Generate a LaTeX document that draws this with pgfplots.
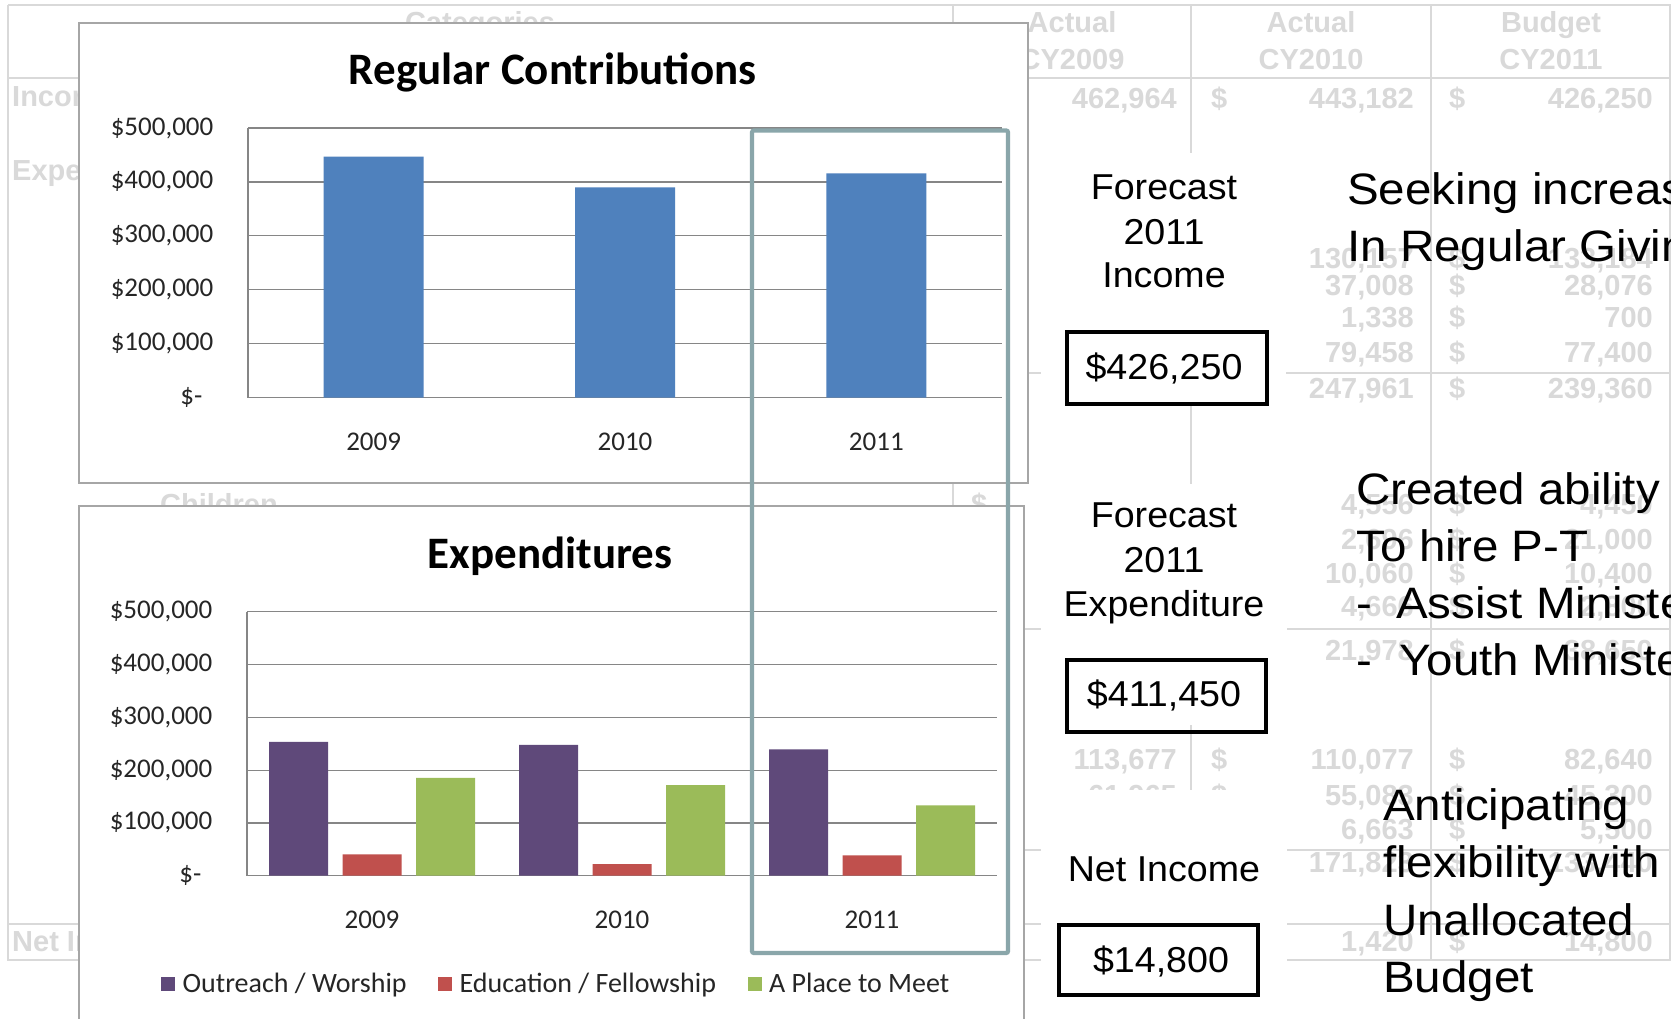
\documentclass[border=0pt]{standalone}
\usepackage{fontspec}
\setmainfont{Liberation Sans}
\newfontfamily\calfont{Carlito}
\usepackage{graphicx}
\usepackage{pgfplots}
\pgfplotsset{compat=1.18}
\definecolor{tbl}{HTML}{D9D9D9}
\definecolor{blu}{HTML}{4F81BD}
\definecolor{pur}{HTML}{5F497A}
\definecolor{redd}{HTML}{C0504D}
\definecolor{grn}{HTML}{9BBB59}
\definecolor{tealr}{HTML}{8AA6AA}
\definecolor{gridc}{HTML}{868686}
\definecolor{framec}{HTML}{A6A6A6}
\definecolor{txt}{HTML}{262626}
\newcommand{\fs}[1]{\fontsize{#1}{#1}\selectfont}
\newcommand{\wa}[1]{\scalebox{1.045}[1]{#1}}
\newcommand{\wb}[1]{\scalebox{1.08}[1]{#1}}

\pgfplotsset{
  sqleg/.style={legend image code/.code={\fill[##1] (0pt,-7.5pt) rectangle (14pt,7pt);}},
  chartstyle/.style={
    scale only axis, clip=false,
    xmin=-0.5, xmax=2.5, ymin=0, ymax=500000,
    axis x line=bottom, axis y line=left,
    axis line style={-, draw=gridc, line width=1.2pt},
    ymajorgrids, grid style={draw=gridc, line width=1.2pt},
    major tick length=0pt,
    xtick={0,1,2}, xticklabels={2009,2010,2011},
    ytick={0,100000,200000,300000,400000,500000},
    yticklabels={{\$-\hbox to 11pt{}},{\$100,000},{\$200,000},{\$300,000},{\$400,000},{\$500,000}},
    scaled y ticks=false,
    tick label style={font=\calfont\fs{27}, text=txt, inner sep=0pt},
    yticklabel style={anchor=east, xshift=-34.5pt},
    xticklabel style={anchor=center, yshift=-44pt},
    title style={anchor=base, font=\calfont\bfseries\fs{45}, inner sep=0pt, text=black},
  }
}

\begin{document}
\begin{tikzpicture}[x=1pt,y=1pt,
  tb/.style={text=tbl, font=\bfseries\fs{29}, inner sep=0pt}]
\path[use as bounding box] (0,0) rectangle (1671,1018);
\clip (0,0) rectangle (1671,1018);
\fill[white] (0,0) rectangle (1671,1018);

% ---------- faint background table ----------
\begin{scope}[draw=tbl, line width=2.2pt]
\draw (8,1013) -- (1671,1013);
\draw (8,1013) -- (8,58) -- (1671,58);
\draw (8,940) -- (1671,940);
\draw (8,94) -- (1671,94);
\foreach \x in {953,1191,1431,1670} \draw (\x,1013) -- (\x,58);
\foreach \y in {645,389,168} \draw (953,\y) -- (1671,\y);
\end{scope}
\node[tb, anchor=base] at (480,985) {Categories};
\node[tb, anchor=base] at (1072,985) {Actual};
\node[tb, anchor=base] at (1072,948) {CY2009};
\node[tb, anchor=base] at (1311,985) {Actual};
\node[tb, anchor=base] at (1311,948) {CY2010};
\node[tb, anchor=base] at (1551,985) {Budget};
\node[tb, anchor=base] at (1551,948) {CY2011};
\node[tb, anchor=base west] at (12,911) {Income};
\node[tb, anchor=base west] at (12,837) {Expenditures};
\node[tb, anchor=base west] at (160,503.5) {Children};
\node[tb, anchor=base west] at (971,503.5) {\$};
\node[tb, anchor=base west] at (12,66.5) {Net Income};
\node[tb, anchor=base east] at (1177,909.5) {462,964};
\node[tb, anchor=base east] at (1177,248.5) {113,677};
\node[tb, anchor=base east] at (1177,212.5) {61,965};
\foreach \y/\c/\d in {909.5/{443,182}/{426,250}, 749.5/{130,157}/{133,184},
  722.5/{37,008}/{28,076}, 690.5/{1,338}/{700}, 655.5/{79,458}/{77,400},
  619.5/{247,961}/{239,360}, 503.5/{4,556}/{4,450}, 468.5/{2,696}/{21,000},
  434.5/{10,060}/{10,400}, 401.5/{4,666}/{2,800}, 357.5/{21,978}/{38,650},
  248.5/{110,077}/{82,640}, 212.5/{55,083}/{45,300}, 178.5/{6,663}/{5,500},
  145.5/{171,823}/{133,440}, 66.5/{1,420}/{14,800}} {
  \node[tb, anchor=base east] at (1414,\y) {\c};
  \node[tb, anchor=base west] at (1211,\y) {\$};
  \node[tb, anchor=base east] at (1653,\y) {\d};
  \node[tb, anchor=base west] at (1449,\y) {\$};
}

% white text boxes over the table
\fill[white] (1041,865) rectangle (1286,615);
\fill[white] (1041,534) rectangle (1287,293);
\fill[white] (1041,228) rectangle (1287,-10);

% chart frames
\filldraw[fill=white, draw=framec, line width=1.5pt] (79,995) rectangle (1028,535);
\filldraw[fill=white, draw=framec, line width=1.5pt] (79,512) rectangle (1024,-10);

% ---------- Regular Contributions ----------
\begin{axis}[chartstyle,
  at={(248pt,620.3pt)}, anchor=south west, width=754pt, height=269.7pt,
  ybar, bar width=100pt,
  title={Regular Contributions}, title style={at={(0.404,1.139)}},
]
\addplot[fill=blu, draw=none, bar shift=0pt] coordinates {(0,446800) (1,390000) (2,416000)};
\end{axis}

% ---------- Expenditures ----------
\begin{axis}[chartstyle,
  at={(247pt,142.3pt)}, anchor=south west, width=750pt, height=263.9pt,
  ybar, bar width=59pt,
  title={Expenditures}, title style={at={(0.404,1.1395)}},
  legend columns=3,
  legend style={at={(-0.1147,-0.409)}, anchor=west, draw=none, fill=none,
    inner sep=0pt, font=\calfont\fs{28}, text=txt, cells={anchor=west},
    /tikz/every odd column/.append style={column sep=5.5pt},
    /tikz/every even column/.append style={column sep=29.5pt}},
]
\addplot[fill=pur, draw=none, bar shift=-73.5pt, sqleg]
  coordinates {(0,253700) (1,247961) (2,239360)};
\addlegendentry{Outreach / Worship}
\addplot[fill=redd, draw=none, bar shift=0pt, sqleg]
  coordinates {(0,40400) (1,21978) (2,38650)};
\addlegendentry{Education / Fellowship}
\addplot[fill=grn, draw=none, bar shift=73.5pt, sqleg]
  coordinates {(0,185300) (1,171823) (2,133440)};
\addlegendentry{A Place to Meet}
\end{axis}

% highlight rectangle around 2011
\draw[tealr, line width=4.3pt, rounded corners=2pt] (752,887.5) rectangle (1008,65);

% ---------- right-hand text ----------
\begin{scope}[every node/.style={inner sep=0pt, font=\fs{36}}]
\node[anchor=base] at (1164,818) {\wa{Forecast}};
\node[anchor=base] at (1164,773) {\wa{2011}};
\node[anchor=base] at (1164,730) {\wa{Income}};
\draw[line width=4pt] (1067,686) rectangle (1267,614);
\node[anchor=base] at (1164,638) {\wa{\$426,250}};

\node[anchor=base] at (1164,490) {\wa{Forecast}};
\node[anchor=base] at (1164,445.4) {\wa{2011}};
\node[anchor=base] at (1164,401) {\wa{Expenditure}};
\draw[line width=4pt] (1067,357.5) rectangle (1266,286);
\node[anchor=base] at (1164,311.5) {\wa{\$411,450}};

\node[anchor=base] at (1164,136.5) {\wa{Net Income}};
\draw[line width=4pt] (1059,93) rectangle (1258,23.5);
\node[anchor=base] at (1161,45.5) {\wa{\$14,800}};
\end{scope}

\begin{scope}[every node/.style={inner sep=0pt, font=\fs{44}, anchor=base west}]
\node at (1347,813) {\wb{Seeking increase}};
\node at (1347,756) {\wb{In Regular Giving}};
\node at (1356,513) {\wb{Created ability}};
\node at (1356,456) {\wb{To hire P-T}};
\node at (1356,399) {\wb{-}};
\node at (1396,399) {\wb{Assist Minister}};
\node at (1356,342) {\wb{-}};
\node at (1399,342) {\wb{Youth Minister}};
\node at (1383,197) {\wb{Anticipating}};
\node at (1383,140) {\wb{flexibility with}};
\node at (1383,83) {\wb{Unallocated}};
\node at (1383,26) {\wb{Budget}};
\end{scope}
\end{tikzpicture}
\end{document}
